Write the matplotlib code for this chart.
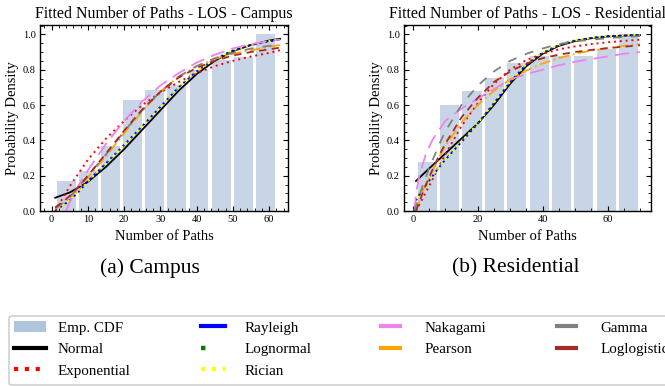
import matplotlib
matplotlib.use("Agg")
import matplotlib.pyplot as plt
from matplotlib.lines import Line2D
from matplotlib.patches import Patch, FancyBboxPatch
from matplotlib.ticker import MultipleLocator

plt.rcParams["font.family"] = ["Liberation Serif", "DejaVu Serif"]

# ---------------- Campus ----------------
campus_bins = [4.05, 10.15, 16.25, 22.35, 28.45, 34.55, 40.65, 46.75, 52.85, 58.95]
campus_cdf = [0.171, 0.228, 0.37, 0.626, 0.683, 0.711, 0.797, 0.857, 0.873, 1.0]

campus_x = [1, 3, 5, 8, 10, 15, 20, 25, 30, 35, 40, 45, 50, 55, 60, 63]
campus_normal = [0.075, 0.09, 0.105, 0.14, 0.165, 0.25, 0.35, 0.46, 0.57, 0.68, 0.775, 0.85, 0.905, 0.94, 0.965, 0.975]
campus_exponential = [0.0, 0.07, 0.14, 0.23, 0.29, 0.41, 0.51, 0.60, 0.67, 0.73, 0.78, 0.82, 0.85, 0.875, 0.895, 0.91]
campus_rayleigh = [0.005, 0.03, 0.06, 0.12, 0.17, 0.27, 0.375, 0.48, 0.59, 0.70, 0.79, 0.86, 0.91, 0.94, 0.96, 0.97]
campus_lognormal = [0.01, 0.035, 0.065, 0.125, 0.17, 0.27, 0.37, 0.48, 0.59, 0.70, 0.79, 0.86, 0.905, 0.94, 0.96, 0.97]
campus_rician = [0.008, 0.032, 0.062, 0.12, 0.168, 0.268, 0.372, 0.48, 0.588, 0.70, 0.792, 0.86, 0.91, 0.94, 0.962, 0.972]
campus_pearson = [0.01, 0.04, 0.075, 0.14, 0.19, 0.31, 0.44, 0.565, 0.675, 0.76, 0.82, 0.86, 0.89, 0.91, 0.93, 0.94]
campus_gamma = [0.015, 0.045, 0.08, 0.15, 0.2, 0.32, 0.45, 0.57, 0.675, 0.76, 0.82, 0.865, 0.895, 0.92, 0.935, 0.94]
campus_loglogistic = [0.02, 0.05, 0.085, 0.15, 0.2, 0.325, 0.455, 0.575, 0.675, 0.755, 0.81, 0.85, 0.88, 0.9, 0.915, 0.925]
campus_nak_x = [4, 5, 7, 10, 15, 20, 25, 30, 35, 40, 45, 50, 55, 60, 63]
campus_nakagami = [0.0, 0.05, 0.13, 0.23, 0.38, 0.51, 0.62, 0.71, 0.78, 0.84, 0.885, 0.92, 0.945, 0.962, 0.97]

# ---------------- Residential ----------------
res_bins = [4.45, 11.35, 18.25, 25.15, 32.05, 38.95, 45.85, 52.75, 59.65, 66.55]
res_cdf = [0.279, 0.598, 0.679, 0.755, 0.839, 0.877, 0.877, 0.877, 0.915, 0.99]

res_x = [1, 3, 5, 8, 10, 15, 20, 25, 30, 35, 40, 45, 50, 55, 60, 65, 70]
res_normal = [0.17, 0.205, 0.24, 0.29, 0.325, 0.41, 0.495, 0.60, 0.72, 0.82, 0.89, 0.935, 0.962, 0.978, 0.988, 0.993, 0.996]
res_exponential = [0.0, 0.07, 0.14, 0.25, 0.32, 0.48, 0.61, 0.72, 0.80, 0.855, 0.89, 0.915, 0.932, 0.945, 0.955, 0.963, 0.97]
res_rayleigh = [0.06, 0.12, 0.17, 0.245, 0.29, 0.39, 0.495, 0.61, 0.73, 0.83, 0.895, 0.94, 0.966, 0.98, 0.99, 0.994, 0.997]
res_lognormal = [0.065, 0.125, 0.175, 0.25, 0.295, 0.395, 0.495, 0.61, 0.73, 0.83, 0.895, 0.94, 0.965, 0.98, 0.99, 0.994, 0.997]
res_rician = [0.062, 0.122, 0.172, 0.247, 0.292, 0.392, 0.497, 0.612, 0.732, 0.832, 0.897, 0.94, 0.966, 0.98, 0.99, 0.994, 0.997]
res_pearson = [0.0, 0.11, 0.19, 0.3, 0.37, 0.5, 0.6, 0.68, 0.745, 0.795, 0.835, 0.865, 0.89, 0.908, 0.922, 0.935, 0.945]
res_loglogistic = [0.0, 0.1, 0.19, 0.31, 0.38, 0.53, 0.64, 0.73, 0.79, 0.835, 0.865, 0.885, 0.9, 0.912, 0.922, 0.93, 0.938]
res_gamma_x = [0.5, 1, 3, 5, 8, 10, 15, 20, 25, 30, 35, 40, 45, 50, 55, 60, 65, 70]
res_gamma = [0.0, 0.03, 0.14, 0.24, 0.37, 0.45, 0.6, 0.71, 0.79, 0.85, 0.89, 0.92, 0.945, 0.96, 0.97, 0.978, 0.985, 0.99]
res_nak_x = [0.5, 1, 2, 4, 6, 10, 15, 20, 25, 30, 35, 40, 45, 50, 55, 60, 65, 70]
res_nakagami = [0.0, 0.1, 0.2, 0.32, 0.40, 0.51, 0.58, 0.635, 0.69, 0.745, 0.775, 0.80, 0.825, 0.845, 0.86, 0.875, 0.89, 0.90]

BAR_COLOR = "#b0c4de"
STYLES = {
    "Normal": dict(color="black", lw=1.3, ls="-"),
    "Exponential": dict(color="red", lw=1.4, ls=(0, (1, 2))),
    "Rayleigh": dict(color="blue", lw=1.4, ls=(0, (1, 2))),
    "Lognormal": dict(color="green", lw=1.0, ls=(1, (1, 3))),
    "Rician": dict(color="yellow", lw=1.4, ls=(1.5, (1, 2))),
    "Nakagami": dict(color="violet", lw=1.3, ls=(0, (8, 4))),
    "Pearson": dict(color="orange", lw=1.3, ls=(0, (6, 2, 1, 2))),
    "Gamma": dict(color="gray", lw=1.3, ls=(0, (5, 5))),
    "Loglogistic": dict(color="brown", lw=1.3, ls=(0, (4, 3))),
}

W, H = 665, 386
fig = plt.figure(figsize=(W / 100, H / 100), dpi=100)
ax1 = fig.add_axes([40 / W, 1 - 211 / H, 248 / W, 186 / H])
ax2 = fig.add_axes([404 / W, 1 - 211 / H, 247 / W, 186 / H])


def draw(ax, centers, cdf, width, curves, title, xlim, xmajor, xminor):
    ax.bar(centers, cdf, width=width, color=BAR_COLOR, alpha=0.7, linewidth=0)
    for name, (xs, ys) in curves.items():
        ax.plot(xs, ys, **STYLES[name])
    ax.set_xlim(*xlim)
    ax.set_ylim(0, 1.053)
    ax.set_title(title, fontsize=11.4, pad=5)
    ax.set_xlabel("Number of Paths", fontsize=10.5, labelpad=4)
    ax.set_ylabel("Probability Density", fontsize=10.5, labelpad=3)
    ax.xaxis.set_major_locator(MultipleLocator(xmajor))
    ax.xaxis.set_minor_locator(MultipleLocator(xminor))
    ax.yaxis.set_major_locator(MultipleLocator(0.2))
    ax.yaxis.set_minor_locator(MultipleLocator(0.05))
    ax.tick_params(which="both", direction="in", top=True, right=True, labelsize=7.5, pad=3)
    ax.tick_params(which="major", length=3.5, width=0.8)
    ax.tick_params(which="minor", length=2, width=0.6)
    for s in ax.spines.values():
        s.set_linewidth(1.0)


draw(ax1, campus_bins, campus_cdf, 0.85 * 6.1, {
    "Normal": (campus_x, campus_normal),
    "Exponential": (campus_x, campus_exponential),
    "Rayleigh": (campus_x, campus_rayleigh),
    "Lognormal": (campus_x, campus_lognormal),
    "Rician": (campus_x, campus_rician),
    "Nakagami": (campus_nak_x, campus_nakagami),
    "Pearson": (campus_x, campus_pearson),
    "Gamma": (campus_x, campus_gamma),
    "Loglogistic": (campus_x, campus_loglogistic),
}, "Fitted Number of Paths - LOS - Campus", (-3.2, 65.2), 10, 2)

draw(ax2, res_bins, res_cdf, 0.85 * 6.9, {
    "Normal": (res_x, res_normal),
    "Exponential": (res_x, res_exponential),
    "Rayleigh": (res_x, res_rayleigh),
    "Lognormal": (res_x, res_lognormal),
    "Rician": (res_x, res_rician),
    "Nakagami": (res_nak_x, res_nakagami),
    "Pearson": (res_x, res_pearson),
    "Gamma": (res_gamma_x, res_gamma),
    "Loglogistic": (res_x, res_loglogistic),
}, "Fitted Number of Paths - LOS - Residential", (-2.7, 73.4), 20, 5)

fig.text(150 / W, 1 - 268 / H, "(a) Campus", ha="center", va="center", fontsize=15.5)
fig.text(516 / W, 1 - 268 / H, "(b) Residential", ha="center", va="center", fontsize=15.5)

# Shared legend frame, running off the right edge of the figure
frame = FancyBboxPatch((9 / W, 1 - 385 / H), 700 / W, 69 / H,
                       boxstyle="round,pad=0,rounding_size=0.006",
                       transform=fig.transFigure, facecolor="white",
                       edgecolor="#c8c8c8", linewidth=1.0, zorder=0)
fig.patches.append(frame)

legend_columns = [
    # (handle x, handle length, text pad, entries)
    (14, 2.13, 0.8, [
        (Patch(facecolor=BAR_COLOR, edgecolor="none"), "Emp. CDF"),
        (Line2D([], [], color="black", lw=3), "Normal"),
        (Line2D([], [], color="red", lw=3, ls=(0, (1, 1.6))), "Exponential"),
    ]),
    (201, 1.6, 1.27, [
        (Line2D([], [], color="blue", lw=3), "Rayleigh"),
        (Line2D([], [], color="green", lw=3.2, ls=(0, (1, 50))), "Lognormal"),
        (Line2D([], [], color="yellow", lw=3, ls=(0, (1, 1.6))), "Rician"),
    ]),
    (381, 1.27, 1.6, [
        (Line2D([], [], color="violet", lw=3), "Nakagami"),
        (Line2D([], [], color="orange", lw=3), "Pearson"),
    ]),
    (557, 1.27, 1.6, [
        (Line2D([], [], color="gray", lw=3), "Gamma"),
        (Line2D([], [], color="brown", lw=3), "Loglogistic"),
    ]),
]
for hx, hlen, tpad, entries in legend_columns:
    fig.legend([e[0] for e in entries], [e[1] for e in entries],
               loc="upper left", bbox_to_anchor=(hx / W, 1 - 321 / H),
               fontsize=10.8, frameon=False, borderpad=0, borderaxespad=0,
               handlelength=hlen, handleheight=0.78, handletextpad=tpad,
               labelspacing=0.5)

fig.savefig("out.png", dpi=100)
